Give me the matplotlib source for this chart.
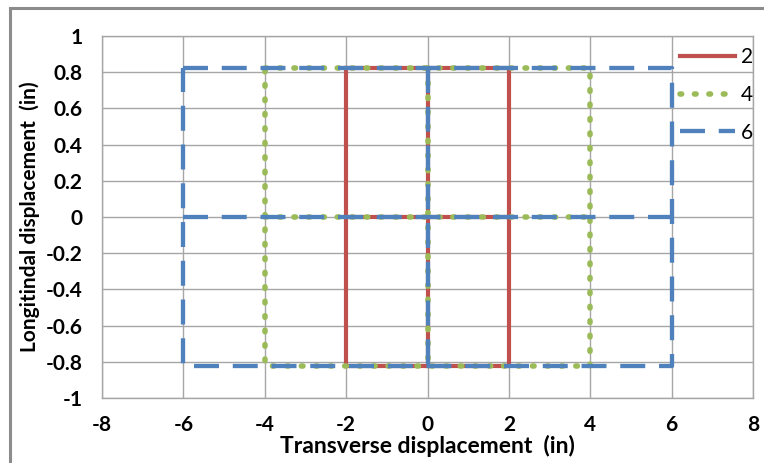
import numpy as np
import matplotlib.pyplot as plt
from matplotlib.patches import Rectangle

# each series: a rectangle with a cross through the centre (nan = pen up)
h = 0.823
x2 = [-2, 2, 2, -2, -2, np.nan, 0, 0, np.nan, -2, 2]
y2 = [h, h, -h, -h, h, np.nan, h, -h, np.nan, 0, 0]
x4 = [-4, 4, 4, -4, -4, np.nan, 0, 0, np.nan, -4, 4]
y4 = [h, h, -h, -h, h, np.nan, h, -h, np.nan, 0, 0]
x6 = [-6, 6, 6, -6, -6, np.nan, 0, 0, np.nan, -6, 6]
y6 = [h, h, -h, -h, h, np.nan, h, -h, np.nan, 0, 0]
labels = ['2', '4', '6']

plt.rcParams['font.family'] = ['Lato', 'DejaVu Sans']
plt.rcParams['axes.unicode_minus'] = False

fig = plt.figure(figsize=(7.64, 4.63), dpi=100)
ax = fig.add_axes([102 / 764, 1 - 398 / 463, 651 / 764, 362 / 463])

# outer chart border (Excel chart area)
fig.patches.append(Rectangle((10 / 764, -0.1), 1.2, 1 - 8 / 463 + 0.1,
                             transform=fig.transFigure, fill=False,
                             edgecolor='#8c8c8c', linewidth=2.2))

ax.plot(x2, y2, color='#c0504d', lw=3.0, label=labels[0], zorder=3)
ax.plot(x4, y4, color='#9bbb59', lw=4.0, linestyle=(0, (0.3, 2.3)),
        dash_capstyle='round', label=labels[1], zorder=4)
ax.plot(x6, y6, color='#4f81bd', lw=3.1, linestyle=(0, (5.8, 3.2)),
        label=labels[2], zorder=5)

ax.set_xlim(-8, 8)
ax.set_ylim(-1, 1)
ax.set_xticks(np.arange(-8, 9, 2))
ax.set_yticks(np.round(np.arange(-1, 1.01, 0.2), 1))
ax.set_yticklabels(['-1', '-0.8', '-0.6', '-0.4', '-0.2', '0', '0.2', '0.4',
                    '0.6', '0.8', '1'])
ax.grid(True, color='#a6a6a6', lw=1)
ax.set_axisbelow(True)
for s in ax.spines.values():
    s.set_color('#a6a6a6')
    s.set_linewidth(1)
ax.tick_params(axis='y', length=0, labelsize=15, pad=14)
ax.tick_params(axis='x', length=0, labelsize=15, pad=12)
for t in ax.get_xticklabels() + ax.get_yticklabels():
    t.set_fontweight('bold')

ax.set_xlabel('Transverse displacement  (in)', fontsize=16.5, fontweight='bold',
              labelpad=0)
ax.set_ylabel('Longitindal displacement  (in)', fontsize=15, fontweight='bold',
              labelpad=4)

leg = fig.legend(loc='upper left', bbox_to_anchor=(672 / 764, 1 - 39 / 463),
                 frameon=False, fontsize=15, handlelength=2.6,
                 handletextpad=0.3, labelspacing=0.85, borderaxespad=0)

fig.savefig('out.png', dpi=100)
